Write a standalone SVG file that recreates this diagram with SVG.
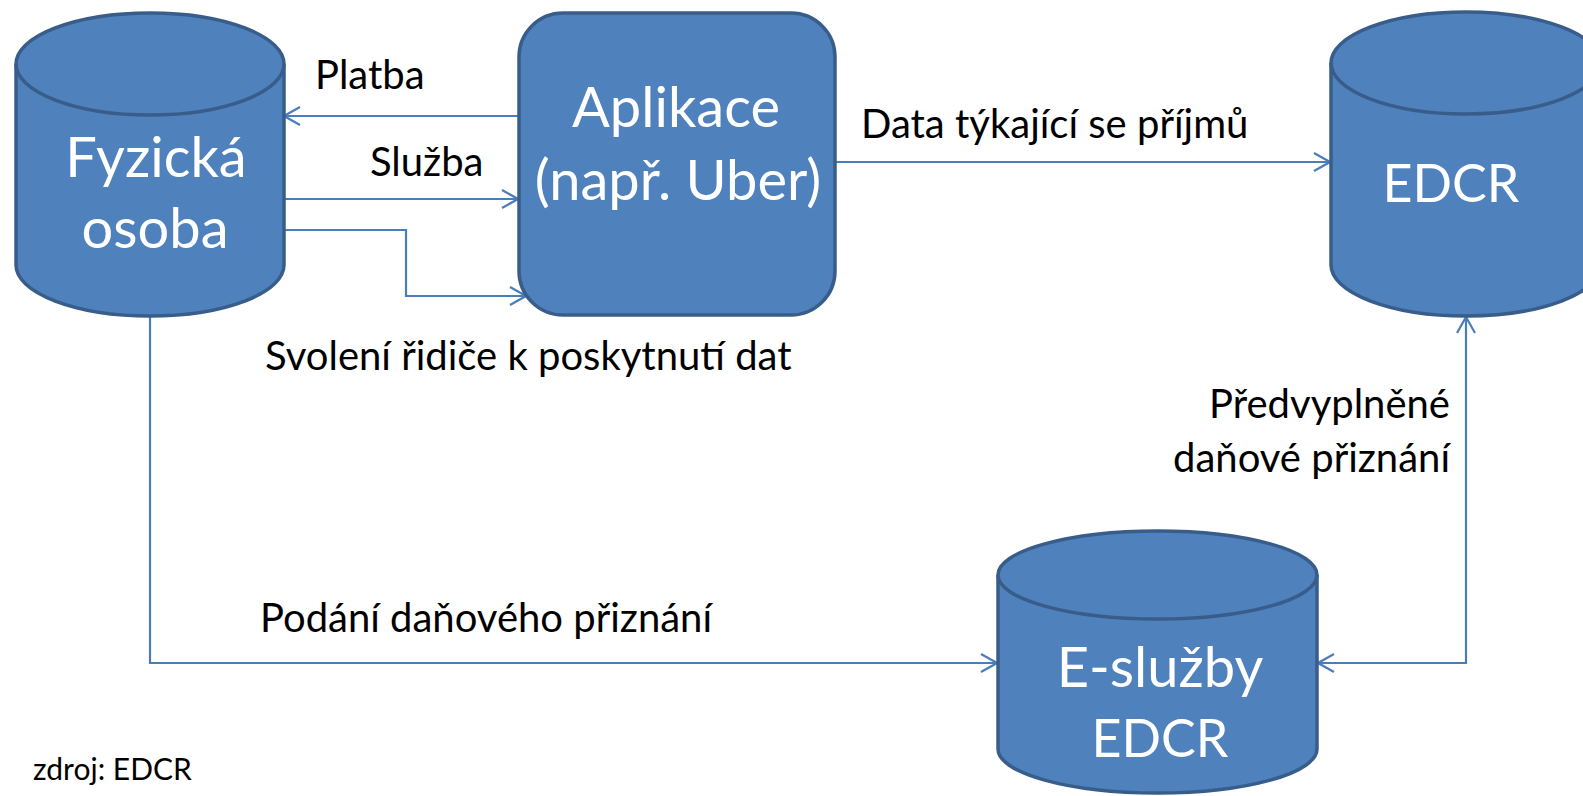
<svg xmlns="http://www.w3.org/2000/svg" width="1583" height="796" viewBox="0 0 1583 796">
<defs>
<style>
.node{fill:#4F81BD;stroke:#385D8A;stroke-width:3.5}
.rim{fill:none;stroke:#385D8A;stroke-width:3.5}
.nt{font-family:Lato,"Liberation Sans",sans-serif;font-size:56px;fill:#fff;text-anchor:middle}
.nt2{font-size:52px}
.lbl{font-family:Lato,"Liberation Sans",sans-serif;font-size:40px;fill:#000}
.src{font-size:30px}
.conn{fill:none;stroke:#4A7EBB;stroke-width:2.2}
</style>
<marker id="arr" viewBox="0 0 20 20" refX="18" refY="10" markerWidth="20" markerHeight="20" markerUnits="userSpaceOnUse" orient="auto-start-reverse">
<path d="M2 1 L18 10 L2 19" fill="none" stroke="#4A7EBB" stroke-width="2.2"/>
</marker>
</defs>
<rect width="1583" height="796" fill="#fff"/>
<g id="connectors">
<path class="conn" d="M519 116 H284" marker-end="url(#arr)"/>
<path class="conn" d="M284 199 H518" marker-end="url(#arr)"/>
<path class="conn" d="M284 230 H406 V296 H526" marker-end="url(#arr)"/>
<path class="conn" d="M835 162 H1330" marker-end="url(#arr)"/>
<path class="conn" d="M150 317 V663 H997" marker-end="url(#arr)"/>
<path class="conn" d="M1318 663 H1466 V317" marker-start="url(#arr)" marker-end="url(#arr)"/>
</g>
<g id="fyzicka">
<path class="node" d="M16 64 V265 A134 51 0 0 0 284 265 V64 A134 51 0 0 0 16 64 Z"/>
<path class="rim" d="M16 64 A134 51 0 0 0 284 64"/>
<text class="nt" x="156" y="177">Fyzická</text>
<text class="nt" x="155" y="248">osoba</text>
</g>
<g id="aplikace">
<rect class="node" x="519" y="13" width="316" height="302" rx="44"/>
<text class="nt" x="676" y="127">Aplikace</text>
<text class="nt" x="678" y="200">(např. Uber)</text>
</g>
<g id="edcr">
<path class="node" d="M1331 63 V265 A135 51 0 0 0 1601 265 V63 A135 51 0 0 0 1331 63 Z"/>
<path class="rim" d="M1331 63 A135 51 0 0 0 1601 63"/>
<text class="nt nt2" x="1451" y="202">EDCR</text>
</g>
<g id="esluzby">
<path class="node" d="M998 575 V749 A159.5 44 0 0 0 1317 749 V575 A159.5 44 0 0 0 998 575 Z"/>
<path class="rim" d="M998 575 A159.5 44 0 0 0 1317 575"/>
<text class="nt" x="1160" y="687">E-služby</text>
<text class="nt nt2" x="1160" y="757">EDCR</text>
</g>
<g id="labels">
<text class="lbl" x="315" y="89">Platba</text>
<text class="lbl" x="370" y="176">Služba</text>
<text class="lbl" x="861" y="138">Data týkající se příjmů</text>
<text class="lbl" x="265" y="370">Svolení řidiče k poskytnutí dat</text>
<text class="lbl" x="1450" y="418" text-anchor="end">Předvyplněné</text>
<text class="lbl" x="1450" y="472" text-anchor="end">daňové přiznání</text>
<text class="lbl" x="260" y="632">Podání daňového přiznání</text>
<text class="lbl src" x="33" y="780">zdroj: EDCR</text>
</g>
</svg>
